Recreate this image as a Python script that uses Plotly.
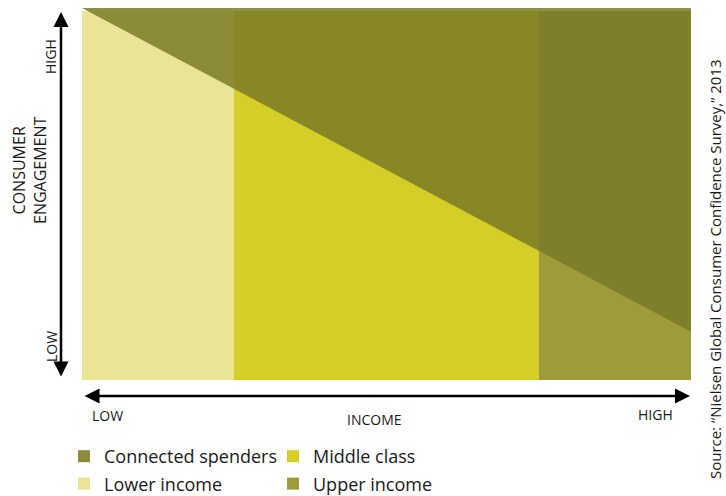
import plotly.graph_objects as go

# Income segments (income axis 0-100, engagement axis 0-100)
segments = ["Lower income", "Middle class", "Upper income"]
segment_start = [0, 25, 75]
segment_end = [25, 75, 100]
segment_height = [99.2, 99.2, 99.2]
segment_colors = ["#E8E594", "#D5CE28", "#9C9C3A"]

# Connected spenders region (above the diagonal)
connected_income = [0, 100, 100]
connected_engagement = [100, 100, 13]
connected_color = "rgba(122,122,38,0.84)"
connected_legend_color = "#8B8B3A"

axis_labels_y = ["LOW", "HIGH"]
axis_labels_x = ["LOW", "HIGH"]

FONT = "Open Sans"
TXT = "#1a1a1a"
W, H = 726, 496


def px(x):
    return x / W


def py(y):
    return 1 - y / H


fig = go.Figure()

for name, s, e, h, c in zip(segments, segment_start, segment_end, segment_height, segment_colors):
    fig.add_trace(go.Bar(
        x=[(s + e) / 2], y=[h], width=[e - s], base=0,
        name=name, marker=dict(color=c, line=dict(width=0)),
        showlegend=False, hoverinfo="name",
    ))

fig.add_trace(go.Scatter(
    x=connected_income + [connected_income[0]],
    y=connected_engagement + [connected_engagement[0]],
    fill="toself", fillcolor=connected_color, mode="lines",
    line=dict(width=0), name="Connected spenders", showlegend=False,
    hoverinfo="name",
))

# legend entries: two columns
legend_cols = {
    "legend": ["Connected spenders", "Lower income"],
    "legend2": ["Middle class", "Upper income"],
}
legend_colors = {"Connected spenders": connected_legend_color}
legend_colors.update(dict(zip(segments, segment_colors)))
for lg, names in legend_cols.items():
    for n in names:
        fig.add_trace(go.Scatter(
            x=[None], y=[None], mode="markers", name=n, legend=lg, legendgroup=n,
            marker=dict(symbol="square", size=10, color=legend_colors[n]),
            showlegend=True,
        ))

rot = dict(xref="paper", yref="paper", textangle=-90, showarrow=False,
           xanchor="center", yanchor="middle")
flat = dict(xref="paper", yref="paper", showarrow=False, yanchor="middle")
arrow = dict(xref="paper", yref="paper", text="", showarrow=True,
             axref="pixel", ayref="pixel",
             arrowhead=2, startarrowhead=2, arrowside="end+start",
             arrowsize=1.2, startarrowsize=1.2, arrowwidth=2.5, arrowcolor="black")
ann = []
# y-axis arrow (double headed)
ann.append(dict(x=px(61), y=py(12), ax=0, ay=366, **arrow))
# x-axis arrow (double headed)
ann.append(dict(x=px(690), y=py(396), ax=-607, ay=0, **arrow))
# y-axis labels
ann.append(dict(x=px(51), y=py(57), text=axis_labels_y[1],
                font=dict(family=FONT, size=14, color=TXT), **rot))
ann.append(dict(x=px(51), y=py(347), text=axis_labels_y[0],
                font=dict(family=FONT, size=14, color=TXT), **rot))
ann.append(dict(x=px(29), y=py(170), text="CONSUMER<br>ENGAGEMENT",
                font=dict(family=FONT, size=16, color=TXT), **rot))
# x-axis labels
ann.append(dict(x=px(90), y=py(415), xanchor="left", text=axis_labels_x[0],
                font=dict(family=FONT, size=14, color=TXT), **flat))
ann.append(dict(x=px(675), y=py(414), xanchor="right", text=axis_labels_x[1],
                font=dict(family=FONT, size=14, color=TXT), **flat))
ann.append(dict(x=px(374), y=py(419), xanchor="center", text="INCOME",
                font=dict(family=FONT, size=14, color=TXT), **flat))
# source
ann.append(dict(x=px(715), y=py(269),
                text="Source: \u201cNielsen Global Consumer Confidence Survey,\u201d 2013",
                font=dict(family=FONT, size=15, color=TXT), **rot))

legend_style = dict(orientation="v", yanchor="top", xanchor="left",
                    itemsizing="constant", tracegroupgap=1,
                    font=dict(family=FONT, size=18, color=TXT),
                    bgcolor="rgba(0,0,0,0)")

fig.update_layout(
    width=W, height=H, autosize=False,
    margin=dict(l=0, r=0, t=0, b=0, pad=0, autoexpand=False),
    paper_bgcolor="white", plot_bgcolor="white",
    barmode="overlay", bargap=0,
    xaxis=dict(range=[0, 100], visible=False, fixedrange=True,
               domain=[px(82), px(691)]),
    yaxis=dict(range=[0, 100], visible=False, fixedrange=True,
               domain=[py(380), py(8)]),
    showlegend=True,
    legend=dict(x=px(64), y=py(438), **legend_style),
    legend2=dict(x=px(273), y=py(438), **legend_style),
    annotations=ann,
)

fig.write_html("out.html")
